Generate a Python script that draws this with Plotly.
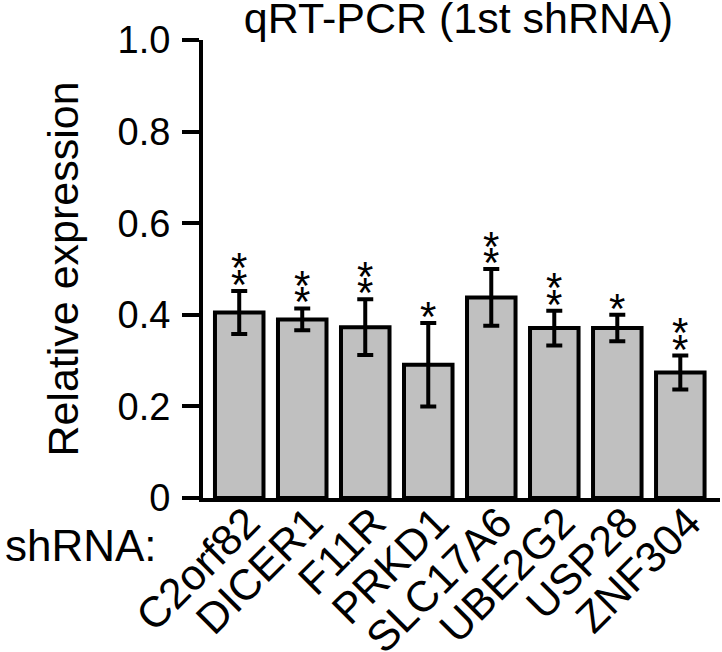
import plotly.graph_objects as go

genes = ["C2orf82", "DICER1", "F11R", "PRKD1", "SLC17A6", "UBE2G2", "USP28", "ZNF304"]
values = [0.405, 0.390, 0.373, 0.291, 0.438, 0.371, 0.371, 0.274]
errors = [0.047, 0.024, 0.061, 0.091, 0.062, 0.038, 0.029, 0.037]
stars = [2, 2, 2, 1, 2, 2, 1, 2]
y_ticks = [0, 0.2, 0.4, 0.6, 0.8, 1.0]
y_tick_labels = ["0", "0.2", "0.4", "0.6", "0.8", "1.0"]

FONT = "Liberation Sans, Arial, Helvetica, sans-serif"
W, H = 722, 652
ML, MR, MT, MB = 203, 2, 40, 154
PW, PH = W - ML - MR, H - MT - MB

fig = go.Figure()
fig.add_trace(go.Bar(
    x=list(range(len(genes))), y=values, width=0.77,
    marker=dict(color="#c0c0c0", line=dict(color="black", width=4)),
    error_y=dict(type="data", array=errors, visible=True, color="black", thickness=4, width=8),
    showlegend=False, hoverinfo="skip",
))

annotations = []
for i, (v, e, n) in enumerate(zip(values, errors, stars)):
    for k in range(n):
        annotations.append(dict(
            x=i, y=v + e, xref="x", yref="y", text="*", showarrow=False,
            font=dict(family=FONT, size=42, color="black"),
            xanchor="center", yanchor="bottom", yshift=-19 + 16.5 * k,
        ))
annotations.append(dict(
    x=(3 - ML) / PW, y=(MT + PH - 545) / PH, xref="paper", yref="paper",
    text="shRNA:", showarrow=False,
    font=dict(family=FONT, size=44, color="black"), xanchor="left", yanchor="middle",
))

fig.update_layout(
    width=W, height=H,
    margin=dict(l=ML, r=MR, t=MT, b=MB, autoexpand=False),
    plot_bgcolor="white", paper_bgcolor="white",
    font=dict(family=FONT, size=40, color="black"),
    title=dict(text="qRT-PCR (1st shRNA)", x=458.5 / W, xref="container", xanchor="center",
               y=1 - 18 / H, yref="container", yanchor="middle",
               font=dict(family=FONT, size=43, color="black")),
    annotations=annotations,
)

fig.update_xaxes(
    range=[-0.575, 7.63], tickmode="array", tickvals=list(range(len(genes))), ticktext=genes,
    tickangle=-45, ticks="", showline=True, linecolor="black", linewidth=4,
    showgrid=False, zeroline=False, automargin=False,
    ticklabelstandoff=-22, ticklabelshift=8,
    tickfont=dict(family=FONT, size=43, color="black"),
)
fig.update_yaxes(
    range=[0, 1.0], tickmode="array", tickvals=y_ticks, ticktext=y_tick_labels,
    ticks="outside", ticklen=17, tickwidth=4, tickcolor="black", ticklabelstandoff=4,
    showline=True, linecolor="black", linewidth=4, showgrid=False, zeroline=False,
    automargin=False,
    tickfont=dict(family=FONT, size=38, color="black"),
    title=dict(text="Relative expression", font=dict(family=FONT, size=43, color="black"), standoff=27),
)

fig.write_html("out.html", config={"displayModeBar": False},
               post_script="document.body.style.margin='0';document.body.style.overflow='hidden';")
